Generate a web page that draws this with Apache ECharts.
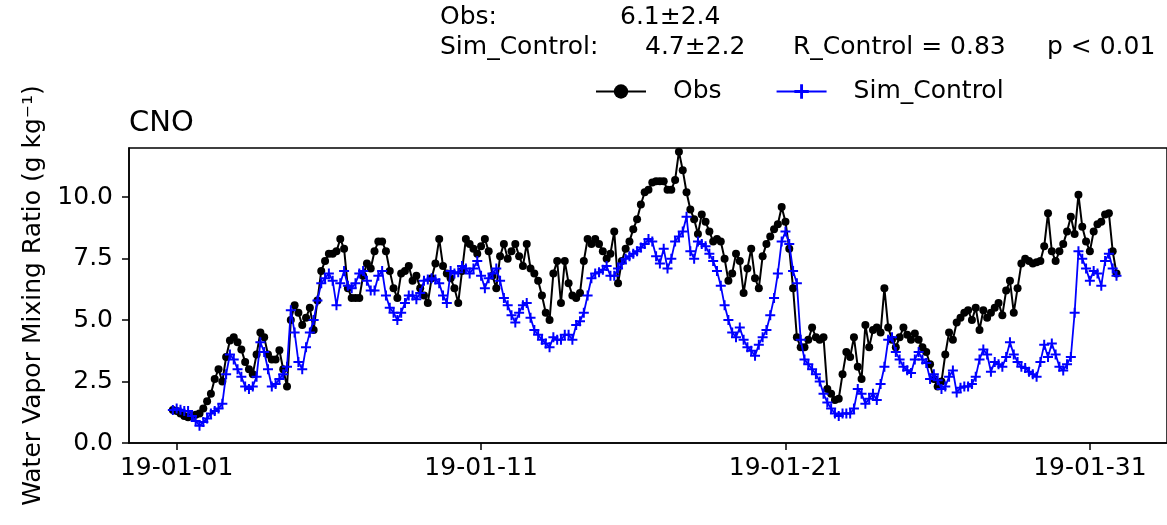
<!DOCTYPE html>
<html><head><meta charset="utf-8">
<script src="https://cdn.jsdelivr.net/npm/echarts@6/dist/echarts.min.js"></script>
<style>html,body{margin:0;padding:0;background:#fff}#c{width:1167px;height:525px}</style>
</head><body><div id="c"></div>
<script>
// ---- data ----
const startTime = Date.UTC(2018, 11, 31, 21); // first sample (UTC)
const stepHours = 3;
const obsValues = [1.34,
1.3,1.2,1.1,1.05,1.1,1.15,1.2,1.4,
1.7,2.0,2.6,3.0,2.5,3.5,4.17,4.3,
4.1,3.8,3.3,3.0,2.8,3.6,4.5,4.3,
3.6,3.4,3.4,3.77,3.0,2.3,5.0,5.6,
5.3,4.8,5.1,5.5,4.6,5.8,7.0,7.4,
7.7,7.7,7.8,8.3,7.9,6.3,5.9,5.9,
5.9,6.8,7.3,7.1,7.8,8.2,8.2,7.8,
7.0,6.3,5.9,6.9,7.0,7.2,6.6,6.8,
6.3,6.0,5.7,6.7,7.3,8.3,7.2,6.9,
6.7,6.3,5.7,7.0,8.3,8.1,7.9,7.7,
8.0,8.3,7.8,6.8,6.3,7.6,8.1,7.5,
7.8,8.1,7.6,7.2,8.1,7.1,6.9,6.6,
6.0,5.3,5.0,6.9,7.4,5.7,7.4,6.5,
6.0,5.9,6.1,7.4,8.3,8.1,8.3,8.1,
7.8,7.5,7.7,8.6,6.5,7.4,7.9,8.2,
8.7,9.1,9.7,10.2,10.3,10.6,10.65,10.65,
10.65,10.3,10.3,10.7,11.85,11.1,10.2,9.5,
9.1,8.5,9.3,9.0,8.6,8.2,8.3,8.2,
7.5,6.6,6.9,7.7,7.4,6.1,7.1,7.9,
6.7,6.3,7.6,8.1,8.4,8.7,8.9,9.6,
9.0,7.9,6.3,4.3,3.9,3.9,4.2,4.7,
4.3,4.2,4.3,2.2,2.0,1.75,1.8,2.8,
3.7,3.5,4.3,3.1,2.6,4.8,3.9,4.6,
4.7,4.5,6.3,4.7,4.2,3.9,4.3,4.7,
4.4,4.2,4.45,4.2,3.9,3.7,3.2,2.6,
2.3,2.5,3.6,4.5,4.2,4.9,5.1,5.3,
5.4,5.0,5.5,4.6,5.4,5.1,5.3,5.5,
5.7,5.2,6.2,6.6,5.3,6.3,7.3,7.5,
7.4,7.3,7.35,7.4,8.0,9.35,7.8,7.4,
7.8,8.1,8.6,9.2,8.5,10.1,8.8,8.2,
7.8,8.6,8.9,9.0,9.3,9.35,7.8,6.9];
const simValues = [1.34,
1.4,1.35,1.3,1.3,1.1,0.9,0.7,0.85,
1.0,1.2,1.3,1.4,1.6,2.8,3.6,3.4,
3.0,2.7,2.3,2.2,2.3,2.7,4.1,3.7,
3.0,2.3,2.4,2.6,2.8,3.1,5.4,4.5,
3.3,3.0,3.9,4.5,5.0,5.8,6.5,6.7,
6.9,6.6,5.6,6.5,7.0,6.4,6.3,6.5,
6.9,7.0,6.6,6.2,6.2,6.8,7.0,6.0,
5.5,5.3,5.0,5.3,5.7,6.0,6.0,5.85,
6.1,6.6,6.65,6.7,6.65,6.5,6.0,5.7,
7.0,6.9,6.95,7.2,7.1,6.9,7.1,7.4,
6.8,6.3,6.7,6.9,7.1,6.6,5.9,5.6,
5.2,4.9,5.3,5.6,5.7,5.1,4.6,4.4,
4.2,4.05,3.9,4.3,4.2,4.2,4.4,4.4,
4.2,4.8,4.95,5.3,6.0,6.7,6.9,6.95,
7.05,7.2,6.8,6.8,7.1,7.3,7.5,7.6,
7.7,7.8,7.95,8.1,8.3,8.2,7.6,7.3,
7.9,7.1,7.5,8.2,8.4,8.6,9.2,7.8,
7.5,8.2,8.1,8.0,7.7,7.4,7.0,6.4,
5.6,5.0,4.5,4.3,4.7,4.2,3.9,3.75,
3.55,4.0,4.3,4.6,5.2,5.9,6.9,8.2,
8.6,8.1,7.0,6.5,4.2,3.4,3.2,3.0,
2.8,2.5,2.0,1.65,1.4,1.2,1.1,1.2,
1.2,1.2,1.4,2.2,2.0,1.6,1.8,2.0,
1.75,2.4,3.1,4.2,4.3,3.7,3.4,3.1,
2.96,2.85,3.4,3.7,3.4,3.25,2.6,2.8,
2.55,2.2,2.3,2.7,2.95,2.05,2.25,2.3,
2.3,2.4,2.7,3.4,3.8,3.6,2.9,3.3,
3.2,3.1,3.5,4.1,3.6,3.3,3.1,3.05,
2.9,2.8,2.7,3.3,4.0,3.5,4.05,3.6,
3.1,2.95,3.2,3.5,5.3,7.8,7.5,7.1,
6.6,7.0,6.9,6.4,7.4,7.7,7.1,6.8];
const xTickDates = [[2019,0,1],[2019,0,11],[2019,0,21],[2019,0,31]];
const yTicks = [0, 2.5, 5, 7.5, 10];
const seriesNames = ['Obs', 'Sim_Control'];
const statLabels = ['Obs:', 'Sim_Control:'];
const statValues = ['6.1±2.4', '4.7±2.2'];
const corrText = 'R_Control = 0.83';
const pText = 'p < 0.01';
const stationName = 'CNO';
const yAxisTitle = 'Water Vapor Mixing Ratio (g kg⁻¹)';

// ---- build ----
// x axis works in days since the first tick date (UTC)
const H = 3600 * 1000;
const dayMs = 24 * H;
const epoch = Date.UTC(xTickDates[0][0], xTickDates[0][1], xTickDates[0][2]);
const toDays = t => (t - epoch) / dayMs;
const toPairs = vals => vals.map((v, i) => [toDays(startTime + i * stepHours * H), v]);
const xTicks = xTickDates.map(d => toDays(Date.UTC(d[0], d[1], d[2])));
const xMin = -1.566;
const xMax = xMin + 34.1;
const pad = n => String(n).padStart(2, '0');
const fmtDate = v => { const d = new Date(epoch + v * dayMs); return String(d.getUTCFullYear()).slice(2) + '-' + pad(d.getUTCMonth() + 1) + '-' + pad(d.getUTCDate()); };
const FONT = 'DejaVu Sans';
const plusPath = 'path://M4,0H6V4H10V6H6V10H4V6H0V4H4Z';

const chart = echarts.init(document.getElementById('c'), null, {renderer: 'canvas'});
const txt = (x, y, s) => ({type: 'text', left: x, top: y, style: {text: s, font: '25px "DejaVu Sans"', fill: '#000'}});
chart.setOption({
  animation: false,
  backgroundColor: '#fff',
  textStyle: {fontFamily: FONT},
  grid: {left: 129, top: 148, width: 1045, height: 295, show: true, borderColor: '#000', borderWidth: 1.5, backgroundColor: 'transparent'},
  title: {text: stationName, left: 124, top: 104, textStyle: {fontFamily: FONT, fontSize: 29, fontWeight: 'normal', color: '#000'}},
  legend: {
    data: seriesNames, left: 590, top: 74, itemWidth: 50, itemHeight: 18, itemGap: 54,
    textStyle: {fontFamily: FONT, fontSize: 25, color: '#000', padding: [0, 0, 0, 22]}
  },
  graphic: [
    txt(440, 5, statLabels[0]), txt(620, 5, statValues[0]),
    txt(440, 35, statLabels[1]), txt(645, 35, statValues[1]),
    txt(793, 35, corrText), txt(1047, 35, pText)
  ],
  xAxis: {
    type: 'value', min: xMin, max: xMax,
    axisLine: {show: true, onZero: false, lineStyle: {color: '#000', width: 1.5}},
    axisTick: {show: true, customValues: xTicks, length: 7, lineStyle: {color: '#000', width: 1.5}},
    axisLabel: {customValues: xTicks, formatter: v => fmtDate(v), fontFamily: FONT, fontSize: 25, color: '#000', margin: 13, hideOverlap: false},
    splitLine: {show: false}
  },
  yAxis: {
    type: 'value', min: 0, max: 12,
    name: yAxisTitle, nameLocation: 'middle', nameGap: 82,
    nameTextStyle: {fontFamily: FONT, fontSize: 25, color: '#000'},
    axisLine: {show: true, onZero: false, lineStyle: {color: '#000', width: 1.5}},
    axisTick: {show: true, customValues: yTicks, length: 7, lineStyle: {color: '#000', width: 1.5}},
    axisLabel: {customValues: yTicks, formatter: v => v.toFixed(1), fontFamily: FONT, fontSize: 25, color: '#000', margin: 16},
    splitLine: {show: false}
  },
  series: [
    {name: seriesNames[0], type: 'line', data: toPairs(obsValues), symbol: 'circle', symbolSize: 8, showSymbol: true, showAllSymbol: true,
     lineStyle: {color: '#000', width: 2}, itemStyle: {color: '#000'}, z: 2, silent: true, emphasis: {disabled: true}},
    {name: seriesNames[1], type: 'line', data: toPairs(simValues), symbol: plusPath, symbolSize: 10, showSymbol: true, showAllSymbol: true,
     lineStyle: {color: '#0000ff', width: 1.8}, itemStyle: {color: '#0000ff'}, z: 3, silent: true, emphasis: {disabled: true}}
  ]
});
</script></body></html>
